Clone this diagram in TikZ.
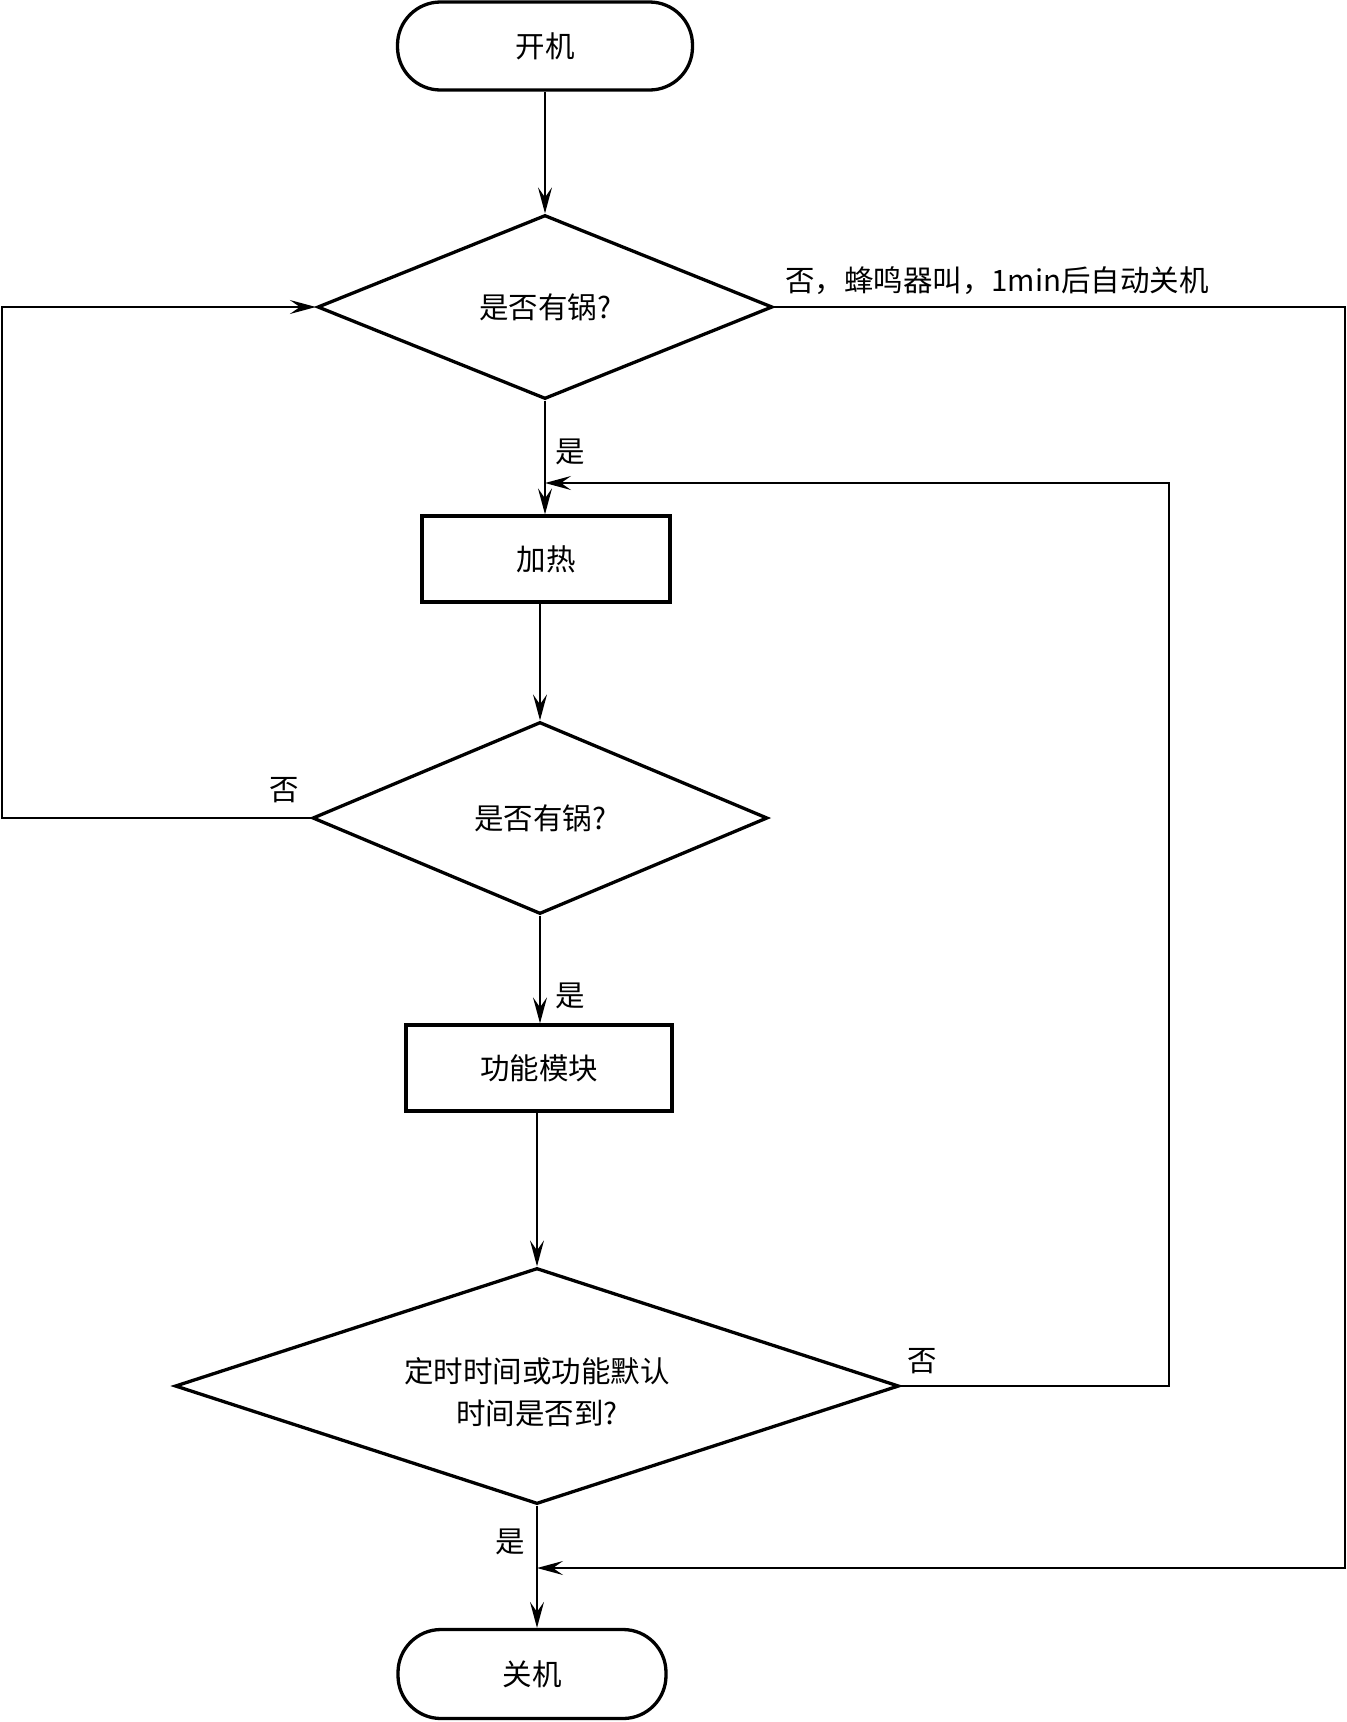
\documentclass[tikz,border=0pt]{standalone}
\usepackage{fontspec}
\newfontfamily\cjk{Noto Sans CJK SC}
\usetikzlibrary{shapes.geometric,arrows.meta}
\begin{document}
\begin{tikzpicture}[x=1pt,y=1pt,
  every node/.style={font=\cjk\fontsize{29.5}{42}\selectfont},
  shp/.style={draw, line width=3.3pt, inner sep=0pt},
  term/.style={shp, rectangle, rounded corners=43pt},
  proc/.style={shp, rectangle},
  dec/.style={shp, diamond},
  arr/.style={line width=1.7pt, -{Stealth[length=26pt,width=14pt,inset=10pt]}},
  lbl/.style={inner sep=0pt, align=center}]
\useasboundingbox (0,0) rectangle (1347,-1722);
\fill[white] (0,0) rectangle (1347,-1722);

\node[term, minimum width=295pt, minimum height=88pt] (start) at (545,-46) {开机};
\node[dec, minimum width=455pt, minimum height=184pt] (d1) at (545,-307) {是否有锅?};
\node[proc, minimum width=248pt, minimum height=86pt] (heat) at (546,-559) {加热};
\node[dec, minimum width=455pt, minimum height=192pt] (d2) at (540,-818) {是否有锅?};
\node[proc, minimum width=266pt, minimum height=86pt] (func) at (539,-1068) {功能模块};
\node[dec, minimum width=724pt, minimum height=236pt] (d3) at (537,-1386) {};
\node[lbl] (d3t) at ([yshift=-6pt]d3.center) {定时时间或功能默认\\时间是否到?};
\node[term, minimum width=268pt, minimum height=89pt] (end) at (532,-1674) {关机};

\coordinate (lft) at (2,0);
\coordinate (rgt) at (1345,0);
\coordinate (inr) at (1169,0);
\coordinate (m1) at (545,-483);
\coordinate (m2) at (537,-1568);

\draw[arr] (start) -- (d1);
\draw[arr] (d1.south) -- (d1.south |- heat.north);
\draw[arr] (heat.south -| d2) -- (d2.north);
\draw[arr] (d2.south) -- (d2.south |- func.north);
\draw[arr] (func.south -| d3) -- (d3.north);
\draw[arr] (d3.south) -- (d3.south |- end.north);

\draw[arr] (d2.west) -- (d2.west -| lft) -- (d1.west -| lft) -- (d1.west);
\draw[arr] (d1.east) -- (d1.east -| rgt) -- (rgt |- m2) -- (m2);
\draw[arr] (d3.east) -- (d3.east -| inr) -- (inr |- m1) -- (m1);

\node[lbl] (t1) at (997,-281) {否，蜂鸣器叫，1min后自动关机};
\node[lbl] (y1) at (570,-452) {是};
\node[lbl] (y2) at (570,-996) {是};
\node[lbl] (y3) at (510,-1542) {是};
\node[lbl] (n2) at (284,-790) {否};
\node[lbl] (n3) at (922,-1361) {否};
\end{tikzpicture}
\end{document}
